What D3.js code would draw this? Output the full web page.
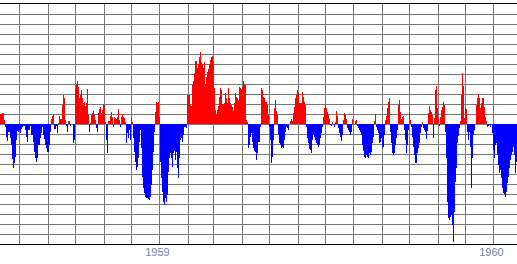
<!DOCTYPE html>
<html>
<head>
	<meta charset="utf-8">
	<title>Daily departures 1958-1960</title>
	<script src="https://cdn.jsdelivr.net/npm/d3@7"></script>
	<style>
		body { margin: 0; background: #fff; }
		svg { display: block; }
	</style>
</head>
<body>
	<svg id="chart" width="517" height="264"></svg>

	<script>
	// readings taken one per pixel column, in gridline units (above zero = red, below = blue)
	var values = [
		1.0,1.0,1.1,1.1,0.4,-0.3,-1.3,-1.7,-0.8,-0.8,
		-1.4,-2.1,-3.5,-4.4,-3.9,-3.3,-1.6,-0.7,-0.8,-0.6,
		-0.9,-0.5,-0.3,-0.2,-0.2,-0.6,-1.3,-1.8,-0.6,-0.6,
		-0.2,-1.1,-1.1,-1.8,-2.8,-3.4,-3.8,-3.4,-2.1,-2.1,
		-1.4,-0.9,-0.3,-1.1,-1.5,-2.1,-2.4,-2.8,-2.8,-2.1,
		-0.8,0.5,0.8,1.0,-0.5,-0.5,-0.2,-0.9,0.1,0.8,
		0.5,0.5,1.9,2.9,2.6,0.4,-0.2,-0.8,0.3,0.3,
		-0.2,0,0,-1.9,-1.6,3.6,4.0,4.3,3.7,2.6,
		2.9,3.4,2.6,2.1,2.2,1.8,2.1,3.5,0.9,-0.8,
		0.1,0.9,1.1,1.3,0.9,0.4,-0.4,-0.8,1.1,1.5,
		1.7,1.1,1.4,2.0,1.9,0.2,-1.6,-2.9,0.3,0.3,
		0.8,1.2,0.7,-0.3,0.7,0.6,0.5,0.7,1.5,0.4,
		-0.3,0.7,1.0,0.7,0.6,0.2,-1.9,-0.9,-1.4,-0.6,
		-1.6,0.6,0.2,-1.4,-2.8,-3.8,-4.6,-4.3,-3.4,-1.8,
		-0.6,-2.4,-5.3,-6.4,-6.9,-7.3,-7.4,-7.4,-7.5,-7.6,
		-7.3,-6.1,-4.6,-2.8,-0.8,1.2,2.2,2.1,2.2,0.7,
		-3.8,-5.4,-6.8,-7.8,-8.1,-7.4,-7.8,-7.1,-4.8,-3.4,
		-2.9,-3.4,-4.3,-2.9,-2.7,-3.6,-2.8,-4.4,-5.4,-3.4,
		-1.6,-1.4,-1.8,-1.1,-0.3,-0.3,-0.4,2.9,2.9,2.9,
		1.9,1.8,3.9,4.3,5.1,6.3,6.3,5.6,6.0,6.7,
		7.2,6.2,6.0,5.6,6.2,4.0,4.7,5.2,5.5,6.0,
		6.4,6.7,6.8,6.2,3.6,1.4,1.0,1.4,1.8,2.7,
		3.6,3.4,2.0,2.0,2.1,3.1,2.6,2.1,3.6,2.6,
		2.1,1.9,1.7,1.3,2.1,3.1,2.7,2.6,2.4,3.7,
		3.6,3.5,3.7,4.3,4.0,3.9,0.4,0.2,-2.4,-2.1,
		-1.3,-0.9,-1.8,-2.4,-2.7,-2.8,-3.6,-2.9,-1.8,-1.8,
		-0.3,3.6,3.4,2.7,2.6,2.2,2.2,1.9,0.9,-0.3,
		-1.6,-3.9,-3.3,-1.6,1.6,2.4,1.3,0.9,-1.1,-1.9,
		-2.1,-2.4,-2.3,-2.4,-1.6,-0.8,-0.3,-0.4,-0.6,0,
		0.3,0.5,0.3,1.1,1.7,2.6,3.0,3.4,3.1,2.1,
		2.1,2.1,3.2,2.7,2.2,1.9,-0.3,-1.4,-1.9,-2.5,
		-2.6,-2.9,-1.6,-1.1,-1.3,-1.6,-1.9,-2.1,-2.3,-2.1,
		-1.4,-0.9,-0.3,0.7,1.6,1.9,1.6,1.2,0.9,0.5,
		-0.1,-0.2,0.2,0,-0.3,0.2,1.3,0.8,-0.4,-0.9,
		-1.3,-1.7,-1.1,0.4,1.1,1.0,0.5,-0.4,-0.6,-0.8,
		-1.1,-0.8,0.5,0,0,0.3,0.4,-0.2,-0.4,-0.6,
		-0.8,-1.1,-2.1,-2.7,-3.3,-3.4,-3.1,-3.3,-3.4,-2.9,
		-3.1,-2.8,-1.9,-1.3,0.3,1.0,-0.3,-0.6,-0.9,-1.9,
		-1.8,-1.4,-2.4,-2.3,-1.1,0.4,0.8,1.6,2.2,2.6,
		-0.8,-1.9,-2.9,-3.1,-2.9,-2.1,-1.4,-0.6,1.9,2.4,
		1.2,0.5,0.7,0.8,-0.6,-1.6,-2.9,-2.1,-0.6,1.2,
		0.4,-0.3,-1.3,-2.3,-3.1,-3.9,-3.9,-2.9,-2.4,-1.9,
		-0.9,-0.3,0.2,-0.4,-0.6,-0.8,-1.5,-0.7,1.1,1.8,
		1.4,1.2,0.9,-1.4,0.6,3.4,3.8,1.6,0.7,-0.2,
		0.7,1.4,1.7,2.2,1.9,-0.8,-3.4,-7.8,-9.4,-9.6,
		-9.3,-9.1,-10.1,-11.8,-8.8,-5.8,-4.4,-1.9,-1.2,-0.4,
		0.3,2.9,5.1,3.8,0.6,1.6,1.5,-0.8,-1.6,-0.8,
		-2.3,-6.4,-3.4,-1.1,-0.6,0,1.9,2.6,3.0,2.6,
		1.6,2.1,2.6,2.6,1.7,0.7,0.3,-0.3,-0.2,-0.1,
		-0.3,0,-0.9,-2.6,-3.4,-2.1,-1.9,-3.1,-4.1,-4.9,
		-4.6,-5.4,-6.4,-6.9,-7.0,-7.3,-6.8,-5.9,-5.3,-4.4,
		-3.6,-3.1,-2.8,-2.3,-3.1,-4.9,-3.8
	];

	var yearLabels = ["1959", "1960"];
	var startDate = new Date(1958, 6, 10, 17);
	var endDate = new Date(1960, 0, 26, 17);
	var gridLevels = d3.range(-12, 13);

	var width = 517, height = 264;
	var svg = d3.select("#chart");

	//----------------------SCALES----------------------
	var x = d3.scaleTime()
		.domain([startDate, endDate])
		.range([0, width]);

	var xBar = d3.scaleBand()
		.domain(d3.range(values.length))
		.range([0, width])
		.padding(0);

	var y = d3.scaleLinear()
		.domain([-12, 12])
		.range([244, 4]);

	//----------------------GRID----------------------
	var grid = svg.append("g").attr("shape-rendering", "crispEdges");

	grid.selectAll("line.h")
		.data(gridLevels.filter(function(d) { return Math.abs(d) < 12; }))
		.enter().append("line")
		.attr("class", "h")
		.attr("x1", 0).attr("x2", width)
		.attr("y1", function(d) { return y(d) + 0.5; })
		.attr("y2", function(d) { return y(d) + 0.5; })
		.attr("stroke", "#777777");

	grid.selectAll("line.v")
		.data(x.ticks(d3.timeMonth.every(1)))
		.enter().append("line")
		.attr("class", "v")
		.attr("x1", function(d) { return Math.round(x(d)) + 0.5; })
		.attr("x2", function(d) { return Math.round(x(d)) + 0.5; })
		.attr("y1", y(12)).attr("y2", y(-12))
		.attr("stroke", "#777777");

	//----------------------BARS----------------------
	svg.append("g")
		.attr("shape-rendering", "crispEdges")
		.selectAll("rect")
		.data(values)
		.enter().append("rect")
		.attr("x", function(d, i) { return xBar(i); })
		.attr("width", xBar.bandwidth())
		.attr("y", function(d) { return Math.round(d >= 0 ? y(d) : y(0)); })
		.attr("height", function(d) { return Math.round(Math.abs(y(d) - y(0))); })
		.attr("fill", function(d) { return d >= 0 ? "#ff0000" : "#0000ff"; });

	//----------------------FRAME + LABELS----------------------
	svg.append("g")
		.attr("shape-rendering", "crispEdges")
		.selectAll("line")
		.data([12, -12])
		.enter().append("line")
		.attr("x1", 0).attr("x2", width)
		.attr("y1", function(d) { return d > 0 ? y(d) - 0.5 : y(d) + 0.5; })
		.attr("y2", function(d) { return d > 0 ? y(d) - 0.5 : y(d) + 0.5; })
		.attr("stroke", "#000");

	svg.selectAll("text.year")
		.data(yearLabels)
		.enter().append("text")
		.attr("class", "year")
		.attr("x", function(d) { return x(new Date(+d, 0, 1)) - 2; })
		.attr("y", 256)
		.attr("text-anchor", "middle")
		.attr("font-family", "Liberation Sans, Arial, sans-serif")
		.attr("font-size", "11px")
		.attr("fill", "#6f86a4")
		.text(function(d) { return d; });
	</script>
</body>
</html>
